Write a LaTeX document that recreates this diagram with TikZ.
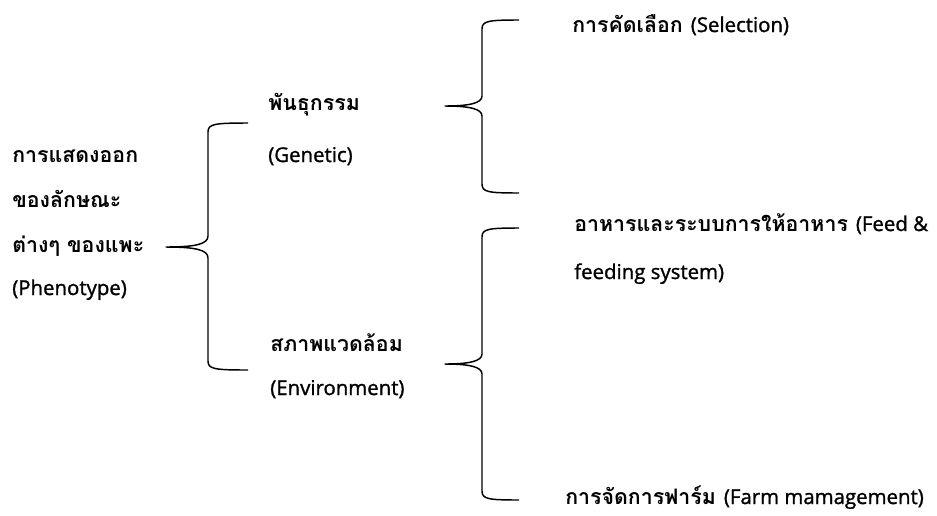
\documentclass[tikz,border=0pt]{standalone}
\usepackage{fontspec}
\setmainfont{Open Sans}
\newfontfamily\thaifont[Script=Thai]{Loma}
\newfontfamily\latfont[FakeBold=1.3]{Open Sans}
\newcommand{\tht}[1]{{\thaifont\bfseries\fontsize{16pt}{18pt}\selectfont #1}}
\newcommand{\lat}[1]{{\latfont\fontsize{15.3pt}{18pt}\selectfont #1}}
\newcommand{\gap}{\hspace{6pt}}
\begin{document}
\begin{tikzpicture}[x=0.75pt,y=-0.75pt,
  lbl/.style={anchor=base west,inner sep=0pt},
  brace/.style={line width=1.1pt,line join=round}]
\useasboundingbox (0,0) rectangle (937,515);
% left block
\node[lbl] (p1) at (12,162) {\tht{การแสดงออก}};
\node[lbl] (p2) at (12,207) {\tht{ของลักษณะ}};
\node[lbl] (p3) at (12,252) {\tht{ต่างๆ ของแพะ}};
\node[lbl] (p4) at (12,295) {\lat{(Phenotype)}};
% middle
\node[lbl] (g1) at (268,110) {\tht{พันธุกรรม}};
\node[lbl] (g2) at (268,162) {\lat{(Genetic)}};
\node[lbl] (e1) at (270,351) {\tht{สภาพแวดล้อม}};
\node[lbl] (e2) at (270,395) {\lat{(Environment)}};
% right
\node[lbl] (s1) at (572,32) {\tht{การคัดเลือก}\gap\lat{(Selection)}};
\node[lbl] (f1) at (574,231) {\tht{อาหารและระบบการให้อาหาร}\gap\lat{(Feed \&}};
\node[lbl] (f2) at (574,279) {\lat{feeding system)}};
\node[lbl] (m1) at (565,504) {\tht{การจัดการฟาร์ม}\gap\lat{(Farm mamagement)}};
% brace coordinates
\coordinate (b1tip) at (166,247);
\coordinate (b1top) at (248,123);
\coordinate (b1bot) at (248,370);
\coordinate (b2tip) at (445,106);
\coordinate (b2top) at (519,20);
\coordinate (b2bot) at (519,193);
\coordinate (b3tip) at (445,364);
\coordinate (b3top) at (519,228);
\coordinate (b3bot) at (519,500);
% braces
\draw[brace] (b1top) .. controls (214,123) and (208,124) .. (208,132)
  -- (208,236) .. controls (208,244) and (196,247) .. (b1tip)
  .. controls (196,247) and (208,250) .. (208,258)
  -- (208,361) .. controls (208,369) and (214,370) .. (b1bot);
\draw[brace] (b2top) .. controls (488,20) and (482,21) .. (482,29)
  -- (482,96) .. controls (482,103) and (470,106) .. (b2tip)
  .. controls (470,106) and (482,109) .. (482,116)
  -- (482,184) .. controls (482,192) and (488,193) .. (b2bot);
\draw[brace] (b3top) .. controls (488,228) and (482,229) .. (482,237)
  -- (482,354) .. controls (482,361) and (470,364) .. (b3tip)
  .. controls (470,364) and (482,367) .. (482,374)
  -- (482,491) .. controls (482,499) and (488,500) .. (b3bot);
\end{tikzpicture}
\end{document}
